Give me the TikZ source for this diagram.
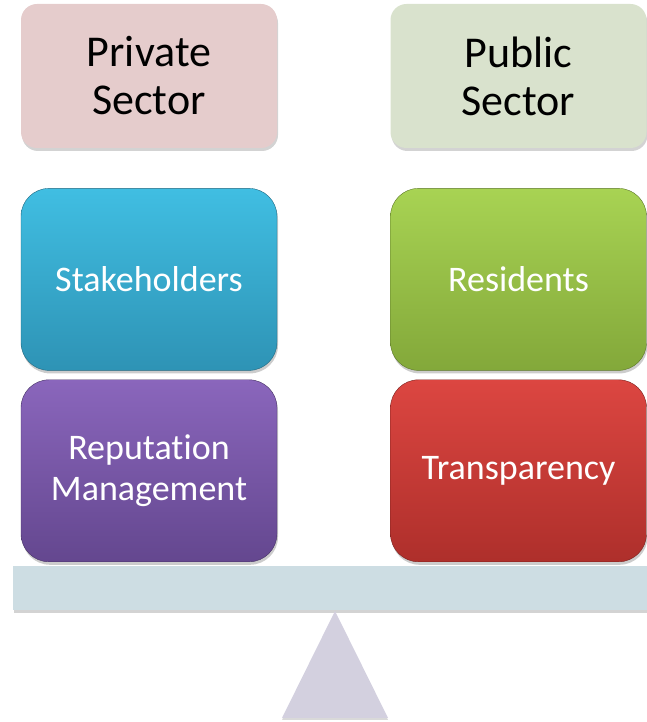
\documentclass[tikz,border=0pt]{standalone}
\usepackage{fontspec}
\setmainfont{Carlito}[Ligatures=CommonOff]
\usepackage{tikz}
\usetikzlibrary{positioning,shadows}
\definecolor{privfill}{HTML}{E5CCCC}
\definecolor{pubfill}{HTML}{D9E2CD}
\definecolor{staketop}{HTML}{40BEE2}
\definecolor{stakebot}{HTML}{2E93B5}
\definecolor{restop}{HTML}{A8D353}
\definecolor{resbot}{HTML}{83A83A}
\definecolor{reptop}{HTML}{8A66BC}
\definecolor{repbot}{HTML}{64478F}
\definecolor{trantop}{HTML}{DC4641}
\definecolor{tranbot}{HTML}{AE2F2B}
\definecolor{beamfill}{HTML}{CDDDE3}
\definecolor{pivotfill}{HTML}{D3D0DF}
\tikzset{
  sectorbox/.style={rectangle, rounded corners=16pt, minimum width=256pt, minimum height=144pt,
                    align=center, font=\fontsize{44}{48}\selectfont, text=black,
                    drop shadow={shadow xshift=1pt, shadow yshift=-3pt, opacity=.35}},
  weightbox/.style={rectangle, rounded corners=28pt, minimum width=256pt, minimum height=182pt,
                    align=center, font=\fontsize{36}{41}\selectfont, text=white, thin,
                    drop shadow={shadow xshift=1pt, shadow yshift=-3pt, opacity=.4}},
  private/.style={fill=privfill},
  public/.style={fill=pubfill},
  blue/.style={top color=staketop, bottom color=stakebot, draw=stakebot!70!black},
  green/.style={top color=restop, bottom color=resbot, draw=resbot!70!black},
  purple/.style={top color=reptop, bottom color=repbot, draw=repbot!70!black},
  red/.style={top color=trantop, bottom color=tranbot, draw=tranbot!70!black},
}

\begin{document}
\begin{tikzpicture}[x=1pt, y=1pt, node distance=40pt and 0pt]
  \useasboundingbox (0,0) rectangle (646,722);

  % the two sides
  \node[sectorbox, private] (private) at (149,646) {Private\\Sector};
  \node[sectorbox, public] (public) at (518.5,646) {Public\\Sector};

  % weights on the beam
  \node[weightbox, blue] (stake) [below=of private] {Stakeholders};
  \node[weightbox, green] (resid) [below=of public] {Residents};
  \node[weightbox, purple] (reput) [below=9pt of stake] {Reputation\\Management};
  \node[weightbox, red] (transp) [below=9pt of resid] {Transparency};

  % beam and pivot
  \fill[beamfill, drop shadow={shadow xshift=1pt, shadow yshift=-3pt, opacity=.35}]
    (13,112) rectangle (660,156);
  \fill[pivotfill, drop shadow={shadow xshift=0pt, shadow yshift=-2pt, opacity=.3}]
    (335,111) -- (388,4) -- (282,4) -- cycle;
\end{tikzpicture}
\end{document}
